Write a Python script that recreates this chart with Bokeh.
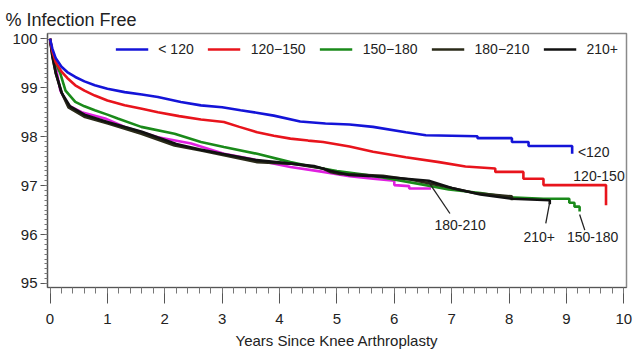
from bokeh.plotting import figure
from bokeh.models import Range1d, Legend, LegendItem, FixedTicker
from bokeh.core.properties import value
from bokeh.embed import file_html
from bokeh.resources import INLINE

# ---- Kaplan-Meier style values (years, % infection free) ----
lt120_x = [0, 0.04, 0.1, 0.2, 0.3, 0.44, 0.6, 0.78, 1.0, 1.3, 1.6, 1.88, 2.28, 2.63, 3.0, 3.32, 3.6, 3.9, 4.36, 4.8, 5.22, 5.63, 6.2, 6.55, 7.45, 7.45, 8.05, 8.05, 8.34, 8.34, 9.10, 9.10]
lt120_y = [100, 99.8, 99.6, 99.43, 99.32, 99.22, 99.13, 99.05, 98.98, 98.91, 98.86, 98.81, 98.71, 98.64, 98.6, 98.54, 98.49, 98.43, 98.31, 98.27, 98.25, 98.2, 98.09, 98.03, 98.01, 97.97, 97.97, 97.89, 97.89, 97.81, 97.81, 97.65]

r120_x = [0, 0.04, 0.1, 0.2, 0.3, 0.44, 0.6, 0.78, 1.0, 1.3, 1.6, 1.88, 2.25, 2.63, 3.03, 3.3, 3.61, 3.9, 4.19, 4.5, 4.76, 5.22, 5.63, 6.2, 6.78, 7.24, 7.76, 7.76, 8.25, 8.25, 8.6, 8.6, 9.69, 9.69]
r120_y = [100, 99.75, 99.52, 99.33, 99.2, 99.05, 98.94, 98.84, 98.74, 98.64, 98.57, 98.5, 98.42, 98.35, 98.3, 98.2, 98.09, 98.02, 97.96, 97.92, 97.89, 97.8, 97.69, 97.58, 97.48, 97.39, 97.35, 97.28, 97.28, 97.14, 97.14, 97.01, 97.01, 96.6]

r150_x = [0, 0.04, 0.1, 0.18, 0.27, 0.44, 0.6, 0.78, 1.0, 1.18, 1.59, 2.17, 2.63, 3.03, 3.61, 4.19, 4.47, 5.0, 5.5, 5.92, 6.5, 6.95, 7.5, 8.0, 8.6, 9.05, 9.05, 9.14, 9.14, 9.23, 9.23]
r150_y = [100, 99.72, 99.5, 99.29, 98.94, 98.71, 98.62, 98.54, 98.45, 98.37, 98.2, 98.06, 97.89, 97.79, 97.65, 97.48, 97.41, 97.3, 97.22, 97.14, 97.02, 96.92, 96.85, 96.76, 96.73, 96.73, 96.65, 96.65, 96.57, 96.57, 96.47]

r180_x = [0, 0.04, 0.1, 0.21, 0.32, 0.61, 1.01, 1.59, 2.17, 2.63, 3.03, 3.61, 4.19, 4.53, 4.76, 4.88, 5.05, 5.8, 6.3, 6.6, 7.0, 7.4, 8.05, 8.05]
r180_y = [100, 99.65, 99.3, 98.88, 98.6, 98.4, 98.27, 98.06, 97.82, 97.72, 97.62, 97.48, 97.45, 97.39, 97.35, 97.28, 97.24, 97.2, 97.12, 97.05, 96.95, 96.85, 96.78, 96.7]

r210_x = [0, 0.04, 0.1, 0.2, 0.35, 0.6, 1.0, 1.6, 2.2, 2.6, 3.0, 3.6, 4.2, 4.6, 4.9, 5.2, 5.8, 6.6, 7.0, 7.5, 8.05, 8.71, 8.71]
r210_y = [100, 99.65, 99.3, 98.9, 98.62, 98.45, 98.3, 98.1, 97.85, 97.74, 97.65, 97.52, 97.45, 97.4, 97.3, 97.22, 97.18, 97.1, 96.95, 96.82, 96.73, 96.7, 96.62]

mag_x = [0, 0.04, 0.09, 0.18, 0.32, 0.55, 0.96, 1.3, 1.88, 2.46, 3.03, 3.61, 4.19, 4.76, 5.22, 5.63, 6.0, 6.0, 6.26, 6.26, 6.64]
mag_y = [100, 99.7, 99.49, 98.94, 98.64, 98.5, 98.37, 98.2, 97.99, 97.86, 97.65, 97.52, 97.38, 97.28, 97.19, 97.14, 97.1, 97.01, 96.99, 96.94, 96.94]

legend_labels = ["< 120", "120\u2212150", "150\u2212180", "180\u2212210", "210+"]
end_labels = ["<120", "120-150", "180-210", "210+", "150-180"]
end_lx = [9.2, 9.12, 6.7, 8.25, 9.01]
end_ly = [97.68, 97.19, 96.19, 95.95, 95.95]
lead_x0 = [6.6, 8.71, 9.23]
lead_y0 = [97.07, 96.66, 96.41]
lead_x1 = [6.97, 8.64, 9.32]
lead_y1 = [96.43, 96.23, 96.09]

xticks = list(range(0, 11))
yticks = [95, 96, 97, 98, 99, 100]

FONT = "Liberation Sans"

p = figure(width=638, height=353, output_backend="svg", toolbar_location=None,
           x_range=Range1d(-0.044, 10.047), y_range=Range1d(94.918, 100.108),
           min_border_left=47, min_border_right=12, min_border_top=33, min_border_bottom=66)

p.title.text = "% Infection Free"
p.title.text_font = FONT
p.title.text_font_size = "18px"
p.title.text_font_style = "normal"
p.title.text_color = "#222222"
p.title.align = "left"
p.title.offset = -42
p.title.standoff = 8

p.xgrid.visible = False
p.ygrid.visible = False
p.outline_line_color = "#8a8a8a"
p.outline_line_width = 1.5

p.xaxis.ticker = FixedTicker(ticks=xticks, minor_ticks=[i / 5 for i in range(0, 51)])
p.yaxis.ticker = FixedTicker(ticks=yticks, minor_ticks=[95 + i / 10 for i in range(0, 51)])
for ax in (p.xaxis, p.yaxis):
    ax.axis_line_color = "#555555"
    ax.axis_line_width = 1.2
    ax.major_tick_line_color = "#555555"
    ax.minor_tick_line_color = "#777777"
    ax.major_label_text_font = FONT
    ax.major_label_text_font_size = "15px"
    ax.major_label_text_color = "#222222"
    ax.axis_label_text_font = FONT
    ax.axis_label_text_font_style = "normal"
    ax.axis_label_text_color = "#222222"
p.xaxis.major_tick_out = 16
p.xaxis.major_tick_in = 0
p.xaxis.minor_tick_out = 6
p.xaxis.minor_tick_in = 0
p.xaxis.major_label_standoff = 10
p.xaxis.axis_label = "Years Since Knee Arthroplasty"
p.xaxis.axis_label_text_font_size = "15px"
p.xaxis.axis_label_standoff = 5
p.yaxis.major_tick_out = 7
p.yaxis.major_tick_in = 0
p.yaxis.minor_tick_out = 3
p.yaxis.minor_tick_in = 0
p.yaxis.major_label_standoff = 3

LW = 2.6
r_mag = p.line(mag_x, mag_y, line_color="#e020e0", line_width=LW)
r3 = p.line(r150_x, r150_y, line_color="#1a8a1a", line_width=LW)
r4 = p.line(r180_x, r180_y, line_color="#2a2a18", line_width=LW)
r5 = p.line(r210_x, r210_y, line_color="#111111", line_width=LW)
r2 = p.line(r120_x, r120_y, line_color="#e8141c", line_width=LW)
r1 = p.line(lt120_x, lt120_y, line_color="#1414d8", line_width=LW)

p.segment(lead_x0, lead_y0, lead_x1, lead_y1, line_color="#222222", line_width=1.3)
p.text(end_lx, end_ly, text=end_labels, text_font=value(FONT), text_font_size="14px",
       text_color="#222222", text_align="left", text_baseline="middle")

legend = Legend(items=[LegendItem(label=lab, renderers=[r]) for lab, r in
                       zip(legend_labels, [r1, r2, r3, r4, r5])],
                orientation="horizontal", location="top_right",
                border_line_alpha=0, background_fill_alpha=0,
                label_text_font=FONT, label_text_font_size="14px", label_text_color="#222222",
                glyph_width=33, glyph_height=16, label_standoff=10, spacing=14,
                padding=0, margin=8)
p.add_layout(legend)

open("out.html", "w").write(file_html(p, INLINE))
